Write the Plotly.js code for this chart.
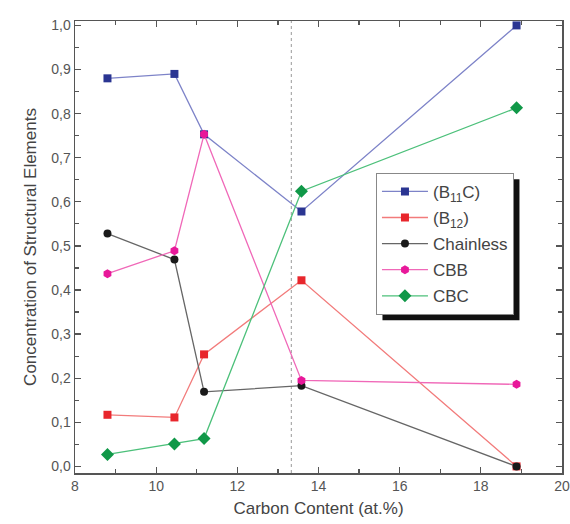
<!DOCTYPE html>
<html>
<head>
<meta charset="utf-8">
<script src="https://cdn.plot.ly/plotly-3.0.1.min.js"></script>
<style>html,body{margin:0;padding:0;background:#fff;}#chart{width:570px;height:524px;}</style>
</head>
<body>
<div id="chart"></div>
<script>
const carbon = [8.8, 10.45, 11.18, 13.58, 18.88];
const b11c = [0.880, 0.890, 0.753, 0.578, 1.000];
const b12 = [0.117, 0.111, 0.254, 0.422, 0.000];
const chainless = [0.528, 0.469, 0.169, 0.183, 0.000];
const cbb = [0.437, 0.489, 0.753, 0.195, 0.186];
const cbc = [0.027, 0.051, 0.063, 0.624, 0.813];
const seriesNames = ['(B<sub>11</sub>C)', '(B<sub>12</sub>)', 'Chainless', 'CBB', 'CBC'];
const dividerX = 13.33;

const styles = [
  {line: '#7d83c8', marker: '#2a3592', symbol: 'square', size: 8},
  {line: '#f27b7b', marker: '#e8262c', symbol: 'square', size: 8},
  {line: '#666666', marker: '#1a1a1a', symbol: 'circle', size: 8},
  {line: '#f068b8', marker: '#e8189a', symbol: 'hexagon', size: 9},
  {line: '#4cc07a', marker: '#109848', symbol: 'diamond', size: 10}
];
const ys = [b11c, b12, chainless, cbb, cbc];

const traces = ys.map((y, i) => ({
  x: carbon, y: y, name: seriesNames[i], type: 'scatter', mode: 'lines+markers',
  legendgroup: 'g' + i,
  line: {color: styles[i].line, width: 1.3},
  marker: {color: styles[i].marker, symbol: styles[i].symbol, size: styles[i].size}
}));

const FONT = 'Liberation Sans, Arial, sans-serif';
const axisCommon = {
  showline: true, linecolor: '#555', linewidth: 1.5, mirror: 'allticks',
  ticks: 'inside', ticklen: 6, tickcolor: '#555', tickwidth: 1.2,
  showgrid: false, zeroline: false,
  tickfont: {family: FONT, size: 14, color: '#555'}
};

const layout = {
  width: 570, height: 524,
  margin: {l: 75, r: 8, t: 21, b: 51},
  paper_bgcolor: '#fff', plot_bgcolor: '#fff',
  separators: ',.',
  showlegend: true,
  legend: {
    x: 0.618, y: 0.664, xanchor: 'left', yanchor: 'top',
    bgcolor: '#fff', bordercolor: '#888', borderwidth: 1,
    font: {family: FONT, size: 17, color: '#444'},
    traceorder: 'grouped', tracegroupgap: 1, itemwidth: 46,
    entrywidth: 150, entrywidthmode: 'pixels'
  },
  xaxis: Object.assign({}, axisCommon, {
    range: [8, 20], dtick: 2, tick0: 8,
    minor: {dtick: 1, ticks: 'inside', ticklen: 4, tickcolor: '#555', showgrid: false},
    title: {text: 'Carbon Content (at.%)', standoff: 9,
      font: {family: FONT, size: 17, color: '#444'}}
  }),
  yaxis: Object.assign({}, axisCommon, {
    range: [-0.015, 1.01], dtick: 0.1, tick0: 0, tickformat: '.1f',
    minor: {dtick: 0.05, ticks: 'inside', ticklen: 4, tickcolor: '#555', showgrid: false},
    title: {text: 'Concentration of Structural Elements', standoff: 10,
      font: {family: FONT, size: 17, color: '#444'}}
  }),
  shapes: [
    {type: 'line', xref: 'x', yref: 'paper', x0: dividerX, x1: dividerX, y0: 0, y1: 1,
     line: {color: '#999', width: 1, dash: 'dot'}, layer: 'below'}
  ]
};

Plotly.newPlot('chart', traces, layout, {displayModeBar: false, staticPlot: true}).then(gd => {
  const bg = gd.querySelector('.legend .bg');
  const svg = gd.querySelector('.main-svg');
  if (!bg || !svg) return;
  const r = bg.getBoundingClientRect();
  const s = svg.getBoundingClientRect();
  const pl = gd._fullLayout._size;
  const off = 6;
  const toPx = px => (px - pl.l) / pl.w;
  const toPy = py => 1 - (py - pl.t) / pl.h;
  const left = r.left - s.left + off, right = r.right - s.left + off;
  const top = r.top - s.top + off, bottom = r.bottom - s.top + off;
  Plotly.relayout(gd, {shapes: layout.shapes.concat([{
    type: 'rect', xref: 'paper', yref: 'paper',
    x0: toPx(left), x1: toPx(right), y0: toPy(bottom), y1: toPy(top),
    fillcolor: '#111', line: {width: 0}, layer: 'above'
  }])});
});
</script>
</body>
</html>
